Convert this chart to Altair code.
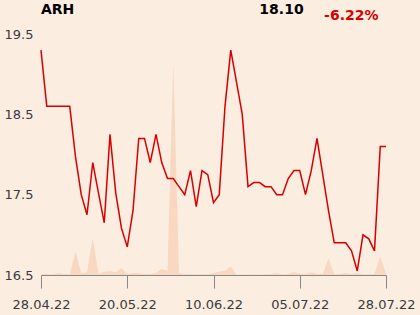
import altair as alt
import pandas as pd

# ---- data ----
price = [19.3, 18.6, 18.6, 18.6, 18.6, 18.6, 17.97, 17.5, 17.25, 17.9,
         17.52, 17.15, 18.25, 17.52, 17.08, 16.85, 17.3, 18.2, 18.2, 17.9,
         18.25, 17.9, 17.7, 17.7, 17.6, 17.5, 17.8, 17.35, 17.8, 17.75,
         17.4, 17.5, 18.6, 19.3, 18.9, 18.5, 17.6, 17.65, 17.65, 17.6,
         17.6, 17.5, 17.5, 17.7, 17.8, 17.8, 17.5, 17.8, 18.2, 17.75,
         17.3, 16.9, 16.9, 16.9, 16.8, 16.55, 17.0, 16.95, 16.8, 18.1,
         18.1]
volume = [7, 10, 7, 20, 10, 7, 233, 20, 27, 367,
          10, 33, 40, 27, 70, 10, 20, 20, 10, 10,
          20, 60, 43, 2140, 20, 10, 10, 7, 10, 7,
          20, 33, 43, 87, 3, 5, 5, 7, 5, 7,
          10, 20, 7, 10, 30, 13, 10, 27, 13, 10,
          167, 7, 10, 20, 10, 20, 7, 7, 10, 187,
          7]
tick_index = [0, 15, 30, 45, 60]
tick_labels = ["28.04.22", "20.05.22", "10.06.22", "05.07.22", "28.07.22"]
y_ticks = [16.5, 17.5, 18.5, 19.5]
ticker = "ARH"
last_price = "18.10"
change = "-6.22%"

df = pd.DataFrame({"i": list(range(len(price))), "price": price, "vol": volume})

FONT = "DejaVu Sans"
RED = "#d60000"

label_expr = "[" + ",".join("'%s'" % s for s in tick_labels) + "][round(datum.value / %d)]" % tick_index[1]

xenc = alt.X(
    "i:Q",
    scale=alt.Scale(domain=[tick_index[0], tick_index[-1]], nice=False, zero=False),
    axis=alt.Axis(
        values=tick_index, labelExpr=label_expr, title=None, grid=False,
        tickSize=13, tickColor="#888888", domainColor="#888888",
        labelFlush=False, labelOverlap=False, labelFontSize=13,
        labelColor="#3a3a3a", labelFont=FONT, labelPadding=10,
    ),
)

area = alt.Chart(df).mark_area(color="#f8d8c0").encode(
    x=xenc,
    y=alt.Y("vol:Q", scale=alt.Scale(domain=[0, 2410]), axis=None),
)

line = alt.Chart(df).mark_line(color=RED, strokeWidth=1.5).encode(
    x=alt.X("i:Q"),
    y=alt.Y(
        "price:Q",
        scale=alt.Scale(domain=[y_ticks[0], y_ticks[-1]], nice=False, zero=False),
        axis=alt.Axis(
            values=y_ticks, format=".1f", title=None, domain=False, ticks=False,
            gridColor="#bbbbbb", labelFontSize=13, labelColor="#3a3a3a",
            labelFont=FONT, labelPadding=8,
        ),
    ),
)

tdf = pd.DataFrame({"t": [0]})
t1 = alt.Chart(tdf).mark_text(
    text=ticker, font=FONT, fontSize=14, fontWeight="bold", color="#000000",
    align="left", baseline="middle",
).encode(x=alt.value(0), y=alt.value(-24))
t2 = alt.Chart(tdf).mark_text(
    text=last_price, font=FONT, fontSize=14, fontWeight="bold", color="#000000",
    align="center", baseline="middle",
).encode(x=alt.value(240.5), y=alt.value(-24.5))
t3 = alt.Chart(tdf).mark_text(
    text=change, font=FONT, fontSize=14, fontWeight="bold", color=RED,
    align="center", baseline="middle",
).encode(x=alt.value(310.3), y=alt.value(-18))

chart = (
    alt.layer(area, line, t1, t2, t3)
    .resolve_scale(y="independent")
    .properties(
        width=345, height=241,
        autosize=alt.AutoSizeParams(type="none"),
        padding={"left": 41, "top": 34, "right": 34, "bottom": 40},
        background="#fcede1",
    )
    .configure_view(stroke=None)
)

chart.save("out.html", embed_options={"renderer": "svg", "actions": False})
